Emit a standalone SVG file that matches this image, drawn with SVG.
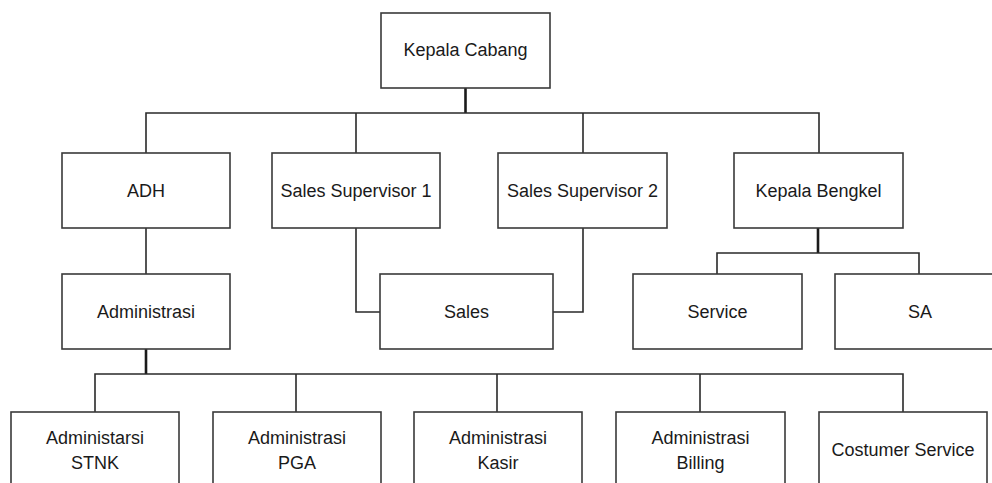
<svg xmlns="http://www.w3.org/2000/svg" width="992" height="483" viewBox="0 0 992 483">
<style>
.box{fill:#fff;stroke:#3a3a3a;stroke-width:1.6}
.ln{fill:none;stroke:#2a2a2a;stroke-width:1.6}
.thick{fill:none;stroke:#1a1a1a;stroke-width:2.6}
text{font-family:"Liberation Sans",Arial,sans-serif;font-size:18px;fill:#1a1a1a;text-anchor:middle;dominant-baseline:central}
</style>
<rect width="992" height="483" fill="#fff"/>
<g id="connectors">
<path class="thick" d="M465.5 88V113"/>
<path class="ln" d="M146 153V113H819V153M356 113V153M583 113V153"/>
<path class="ln" d="M146 228V274"/>
<path class="ln" d="M356 228V312H380M583 228V312H553"/>
<path class="thick" d="M818 228V253"/>
<path class="ln" d="M717 274V253H919V274"/>
<path class="thick" d="M146 349V374"/>
<path class="ln" d="M95 412V374H903V412M296 374V412M497 374V412M700 374V412"/>
</g>
<g id="kepala-cabang"><rect class="box" x="381" y="13" width="169" height="75"/><text x="465.5" y="50">Kepala Cabang</text></g>
<g id="adh"><rect class="box" x="62" y="153" width="168" height="75"/><text x="146" y="191">ADH</text></g>
<g id="sales-supervisor-1"><rect class="box" x="272" y="153" width="168" height="75"/><text x="356" y="191">Sales Supervisor 1</text></g>
<g id="sales-supervisor-2"><rect class="box" x="498" y="153" width="169" height="75"/><text x="582.5" y="191">Sales Supervisor 2</text></g>
<g id="kepala-bengkel"><rect class="box" x="734" y="153" width="169" height="75"/><text x="818.5" y="191">Kepala Bengkel</text></g>
<g id="administrasi"><rect class="box" x="62" y="274" width="168" height="75"/><text x="146" y="312">Administrasi</text></g>
<g id="sales"><rect class="box" x="380" y="274" width="173" height="75"/><text x="466.5" y="312">Sales</text></g>
<g id="service"><rect class="box" x="633" y="274" width="169" height="75"/><text x="717.5" y="312">Service</text></g>
<g id="sa"><rect class="box" x="835" y="274" width="169" height="75"/><text x="920" y="312">SA</text></g>
<g id="administarsi-stnk"><rect class="box" x="11" y="412" width="168" height="76"/><text x="95" y="438">Administarsi</text><text x="95" y="463">STNK</text></g>
<g id="administrasi-pga"><rect class="box" x="213" y="412" width="168" height="76"/><text x="297" y="438">Administrasi</text><text x="297" y="463">PGA</text></g>
<g id="administrasi-kasir"><rect class="box" x="414" y="412" width="168" height="76"/><text x="498" y="438">Administrasi</text><text x="498" y="463">Kasir</text></g>
<g id="administrasi-billing"><rect class="box" x="616" y="412" width="169" height="76"/><text x="700.5" y="438">Administrasi</text><text x="700.5" y="463">Billing</text></g>
<g id="costumer-service"><rect class="box" x="819" y="412" width="168" height="76"/><text x="903" y="450">Costumer Service</text></g>
</svg>
